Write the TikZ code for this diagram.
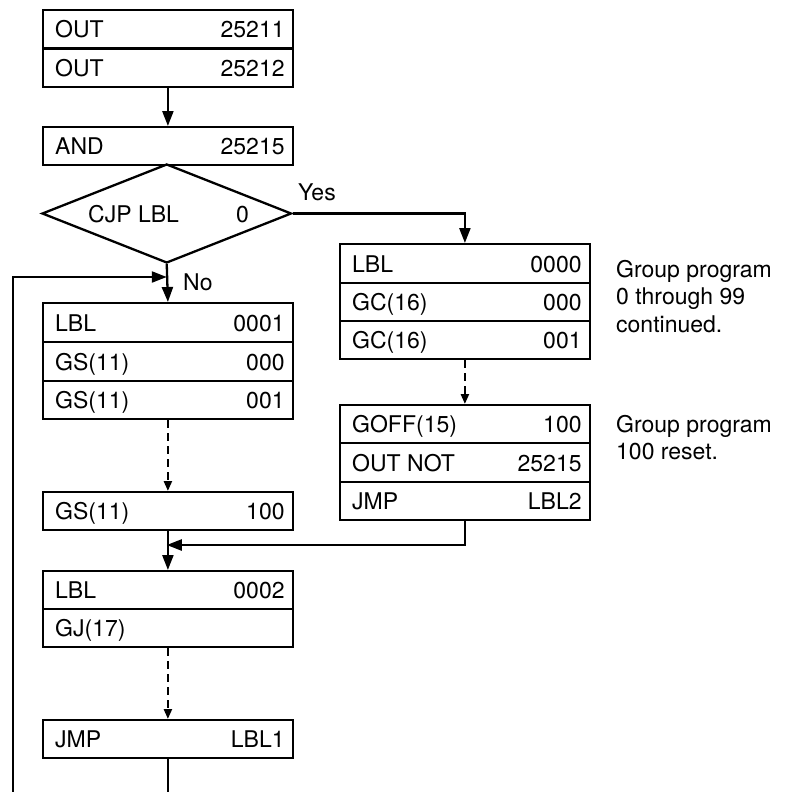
\documentclass[tikz,border=0pt]{standalone}
\usepackage{fontspec}
\setmainfont{TeX Gyre Heros}
\usetikzlibrary{arrows.meta,shapes.geometric,calc}
\newcommand{\cellrow}[6]{%
  \node[cell, minimum height=#4] (#1) at (#2,#3) {};
  \node[txt, anchor=base west] (#1l) at ($(#1.west)+(13,8.5)$) {#5};
  \node[txt, anchor=base east] (#1r) at ($(#1.east)+(-9,8.5)$) {#6};
}
\begin{document}
\begin{tikzpicture}[x=1pt,y=-1pt,
  cell/.style={draw, line width=2.3pt, rectangle, minimum width=249.5pt, inner sep=0pt, anchor=north west},
  txt/.style={inner sep=0pt, font=\fontsize{23}{27}\selectfont},
  arr/.style={line width=2.3pt, -{Triangle[length=15pt,width=11pt]}},
  darr/.style={line width=2.3pt, dash pattern=on 8pt off 5pt, -{Triangle[length=10pt,width=8pt]}},
  ln/.style={line width=2.3pt}
]
\useasboundingbox (0,0) rectangle (790,792);
% left column
\cellrow{o1}{42}{9}{38.5pt}{OUT}{25211}
\cellrow{o2}{42}{47.5}{38.5pt}{OUT}{25212}
\cellrow{and}{42}{126}{38pt}{AND}{25215}
\node[diamond, draw, line width=2.3pt, minimum width=249.5pt, minimum height=99pt, inner sep=0pt] (dia) at (166.75,213.5) {};
\node[txt, anchor=base west] (dial) at (88,222) {CJP LBL};
\node[txt, anchor=base west] (diar) at (236,222) {0};
\cellrow{lbl1}{42}{302}{39pt}{LBL}{0001}
\cellrow{gs0}{42}{341}{39pt}{GS(11)}{000}
\cellrow{gs1}{42}{380}{38pt}{GS(11)}{001}
\cellrow{gs100}{42}{491}{38pt}{GS(11)}{100}
\cellrow{lbl2}{42}{570}{38pt}{LBL}{0002}
\cellrow{gj}{42}{608}{38pt}{GJ(17)}{}
\cellrow{jmp1}{42}{719}{38pt}{JMP}{LBL1}
% right column
\cellrow{lbl0}{339}{243}{39pt}{LBL}{0000}
\cellrow{gc0}{339}{282}{38pt}{GC(16)}{000}
\cellrow{gc1}{339}{320}{38pt}{GC(16)}{001}
\cellrow{goff}{339}{404}{38pt}{GOFF(15)}{100}
\cellrow{outnot}{339}{442}{39pt}{OUT NOT}{25215}
\cellrow{jmp2}{339}{481}{38pt}{JMP}{LBL2}
% labels
\node[txt, anchor=base west] (yes) at (298,200) {Yes};
\node[txt, anchor=base west] (no) at (183,290) {No};
\node[txt, anchor=base west] (n1a) at (616,277) {Group program};
\node[txt, anchor=base west] (n1b) at (616,304.5) {0 through 99};
\node[txt, anchor=base west] (n1c) at (616,332) {continued.};
\node[txt, anchor=base west] (n2a) at (616,432) {Group program};
\node[txt, anchor=base west] (n2b) at (616,459.5) {100 reset.};
% connectors
\coordinate (loopbot) at (13,792);
\coordinate (nojoin) at (166.75,277);
\coordinate (mjoin) at (166.75,545);
\draw[arr] (o2.south) -- (and.north);
\draw[arr] (dia.east) -| (lbl0.north);
\draw[arr] (dia.south) -- (lbl1.north);
\draw[arr] (loopbot) |- (nojoin);
\draw[darr] (gs1.south) -- (gs100.north);
\draw[arr] (gs100.south) -- (lbl2.north);
\draw[darr] (gj.south) -- (jmp1.north);
\draw[ln] (jmp1.south) -- (jmp1.south |- loopbot);
\draw[darr] (gc1.south) -- (goff.north);
\draw[arr] (jmp2.south) |- (mjoin);
\end{tikzpicture}
\end{document}
